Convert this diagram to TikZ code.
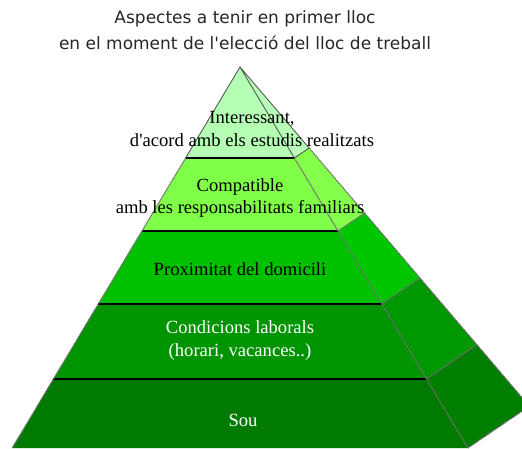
\documentclass[tikz,border=0pt]{standalone}
\usepackage{fontspec}
\setmainfont{Liberation Serif}
\newfontfamily\headfont{DejaVu Sans}
\usepackage{tikz}
\usetikzlibrary{calc}

\definecolor{frontA}{HTML}{B4FFB4}
\definecolor{sideA}{HTML}{B8FFB8}
\definecolor{frontB}{HTML}{80FF48}
\definecolor{sideB}{HTML}{84FF4C}
\definecolor{frontC}{HTML}{00C000}
\definecolor{sideC}{HTML}{00C600}
\definecolor{frontD}{HTML}{009400}
\definecolor{sideD}{HTML}{009800}
\definecolor{frontE}{HTML}{007A00}
\definecolor{sideE}{HTML}{007E00}

\begin{document}
\begin{tikzpicture}[x=1pt, y=-1pt,
  edge/.style={draw=gray!85!black, line width=1.2pt, dash pattern=on 1.3pt off 0.7pt},
  rim/.style={draw=black!65, line width=0.9pt},
  sep/.style={draw=black, line width=1.2pt},
  lbl/.style={align=center, font=\fontsize{18.6}{22.5}\selectfont, inner sep=0pt},
  head/.style={align=center, font=\headfont\fontsize{17}{26}\selectfont,
               inner sep=0pt, text=black!85}
]
  \useasboundingbox (0,0) rectangle (522,448);
  \clip (0,0) rectangle (522,448);

  % apex and the corners of every level
  \coordinate (l0) at (240,67);
  \coordinate (r0) at (240,67);
  \coordinate (o0) at (240,67);
  \coordinate (l1) at (185.6,158); \coordinate (r1) at (294.4,158); \coordinate (o1) at (309.1,148);
  \coordinate (l2) at (141.9,231); \coordinate (r2) at (338.1,231); \coordinate (o2) at (364.6,213);
  \coordinate (l3) at (98.3,304);  \coordinate (r3) at (381.7,304); \coordinate (o3) at (420,278);
  \coordinate (l4) at (53.4,379);  \coordinate (r4) at (426.6,379); \coordinate (o4) at (477,344.7);
  \coordinate (l5) at (12.2,448);  \coordinate (r5) at (467.8,448); \coordinate (o5) at (529.3,406.2);

  % faces
  \foreach \j/\i/\cf/\cs in {0/1/frontA/sideA, 1/2/frontB/sideB, 2/3/frontC/sideC,
                             3/4/frontD/sideD, 4/5/frontE/sideE}{
    \fill[\cf] (l\j) -- (l\i) -- (r\i) -- (r\j) -- cycle;
    \fill[\cs] (r\j) -- (r\i) -- (o\i) -- (o\j) -- cycle;
  }

  % lines
  \foreach \i in {1,...,4}
    \draw[sep] (l\i) -- (r\i);
  \draw[edge] (l1) -- (l5);
  \draw[edge] (r1) -- (r5);
  \draw[edge] (o1) -- (o5);
  \foreach \i in {2,...,5}
    \draw[edge] (r\i) -- (o\i);
  \draw[rim] (l1) -- (l0) -- (r1) -- (o1) -- (o0);

  % texts
  \node[head] (title) at (245,30) {Aspectes a tenir en primer lloc\\en el moment de l\textquotesingle elecció del lloc de treball};
  \node[lbl] (interes) at (252,129) {Interessant,\\d\textquotesingle acord amb els estudis realitzats};
  \node[lbl] (compat) at (240,198) {Compatible\\amb les responsabilitats familiars};
  \node[lbl] (proxim) at (240,269) {Proximitat del domicili};
  \node[lbl, text=white] (condic) at (240,340.5) {Condicions laborals\\(horari, vacances..)};
  \node[lbl, text=white] (sou) at (243,420) {Sou};
\end{tikzpicture}
\end{document}
